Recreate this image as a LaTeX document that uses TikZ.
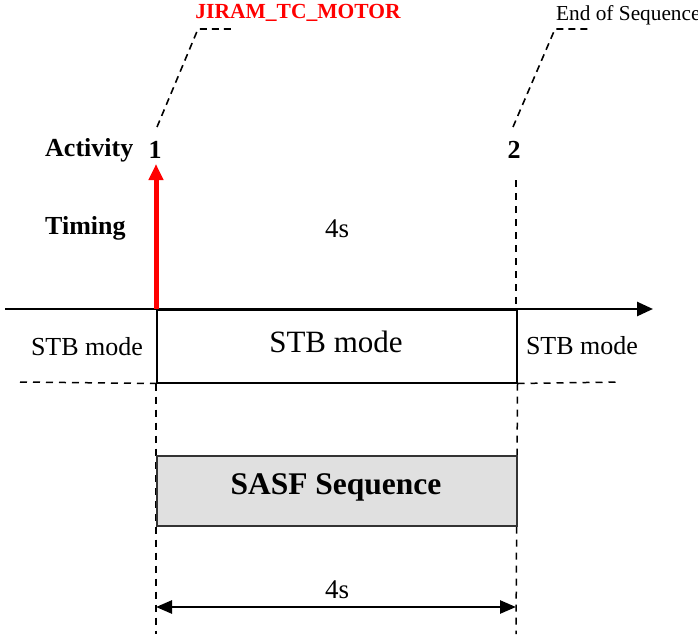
\documentclass[tikz,border=0pt]{standalone}
\usepackage{fontspec}
\setmainfont{Liberation Serif}
\usetikzlibrary{arrows.meta}
\definecolor{sasfgray}{RGB}{224,224,224}
\tikzset{
  lead/.style={dash pattern=on 7pt off 5pt, line width=1.6pt},
  guide/.style={dash pattern=on 7pt off 6pt, line width=1.5pt},
  lbl/.style={inner sep=0pt, font=\fontsize{26}{30}\selectfont},
  blbl/.style={inner sep=0pt, font=\fontsize{26}{30}\selectfont\bfseries},
}
\begin{document}
\begin{tikzpicture}[x=1pt,y=-1pt]
\useasboundingbox (0,0) rectangle (698,634);
% named coordinates
\coordinate (axL) at (5,309);
\coordinate (axR) at (653,309);
\coordinate (t1) at (156,309);
\coordinate (t1top) at (156,164);
\coordinate (t2) at (516,309);
\coordinate (t2top) at (516,180);
\coordinate (t1bot) at (156,634);
\coordinate (t2bot) at (516,634);
% STB box
\node[draw, line width=1.5pt, minimum width=360pt, minimum height=73pt, inner sep=0pt, anchor=north west] (stb) at (156,309) {};
\node[lbl, font=\fontsize{31}{36}\selectfont] (stbt) at (336,342) {STB mode};
\node[lbl] (stbl) at (87,347) {STB mode};
\node[lbl] (stbr) at (582,346) {STB mode};
\coordinate (dl1) at (20,382);
\coordinate (dr2) at (620,382);
\draw[guide] (dl1) -- (stb.south west);
\draw[guide] (stb.south east) -- (dr2);
% guides
\draw[guide] (t2top) -- (t2);
\draw[guide] (stb.south west) -- (t1bot);
\draw[guide] (stb.south east) -- (t2bot);
% SASF box
\node[draw=black!80, fill=sasfgray, line width=1.5pt, minimum width=360pt, minimum height=70pt, inner sep=0pt, anchor=north west] (sasf) at (156,455) {};
\node[blbl, font=\fontsize{31.5}{36}\selectfont\bfseries] (sasft) at (336,487) {SASF Sequence};
% axis
\draw[line width=2.6pt, -{Triangle[length=16pt,width=14pt]}] (axL) -- (axR);
% red arrow
\draw[red, line width=5pt, -{Triangle[length=16pt,width=14pt]}] (t1) -- (t1top);
% labels
\node[blbl, anchor=west] (act) at (45,150) {Activity};
\node[blbl] (n1) at (155,150) {1};
\node[blbl] (n2) at (514,150) {2};
\node[blbl, anchor=west] (tim) at (45,228) {Timing};
\node[lbl, font=\fontsize{27}{30}\selectfont] (d1) at (337,229) {4s};
% leaders
\coordinate (l1a) at (157,127);
\coordinate (l1b) at (198,29);
\coordinate (l1c) at (235,29);
\draw[lead] (l1a) -- (l1b) -- (l1c);
\coordinate (l2a) at (513,127);
\coordinate (l2b) at (555,29);
\coordinate (l2c) at (592,29);
\draw[lead] (l2a) -- (l2b) -- (l2c);
\node[inner sep=0pt, text=red, font=\fontsize{21.5}{24}\selectfont\bfseries] (jir) at (298,13) {JIRAM\_TC\_MOTOR};
\node[inner sep=0pt, anchor=west, font=\fontsize{21.3}{24}\selectfont] (eos) at (556,15) {End of Sequence};
% duration arrow
\coordinate (a1) at (156,607);
\coordinate (a2) at (516,607);
\draw[line width=2.6pt, {Triangle[length=16pt,width=13pt]}-{Triangle[length=16pt,width=13pt]}] (a1) -- (a2);
\node[lbl, font=\fontsize{27}{30}\selectfont] (d2) at (337,590) {4s};
\end{tikzpicture}
\end{document}
